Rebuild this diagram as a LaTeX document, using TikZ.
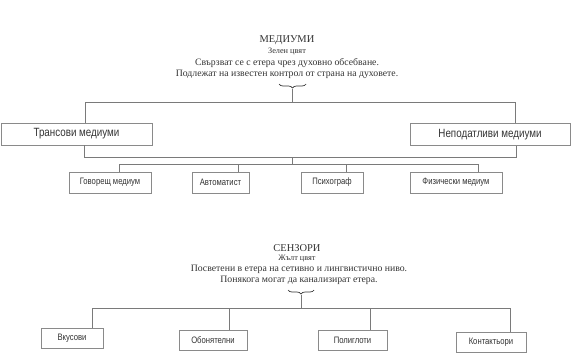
\documentclass[tikz,border=0pt]{standalone}
\usepackage{fontspec}
\setmainfont{Liberation Serif}
\newfontfamily\condfont[FakeStretch=0.82]{Liberation Sans}
\usetikzlibrary{decorations.pathreplacing}
\definecolor{ink}{HTML}{333333}
\definecolor{linec}{HTML}{7A7A7A}
\definecolor{boxc}{HTML}{8A8A8A}
\tikzset{
  headtext/.style={text=ink, inner sep=0pt, font=\fontsize{9.8}{10}\selectfont},
  titletext/.style={text=ink, inner sep=0pt, font=\fontsize{10.5}{11}\selectfont},
  colortext/.style={text=ink, inner sep=0pt, font=\fontsize{8.3}{9}\selectfont},
  bigbox/.style={draw=boxc, line width=0.6pt, text=ink, inner sep=0pt, font=\condfont\fontsize{12}{13}\selectfont},
  smallbox/.style={draw=boxc, line width=0.6pt, text=ink, inner sep=0pt, font=\condfont\fontsize{9.4}{10}\selectfont},
  conn/.style={draw=linec, line width=0.6pt},
  bracestyle/.style={draw=ink, line width=0.7pt, decorate, decoration={brace, mirror, amplitude=4bp}}
}
\begin{document}
\begin{tikzpicture}[x=1bp,y=-1bp]
\useasboundingbox (0,0) rectangle (571,355);
% ---------- МЕДИУМИ ----------
\node[titletext] (mt) at (287,40) {МЕДИУМИ};
\node[colortext] (mc) at (287,52) {Зелен цвят};
\node[headtext] (m1) at (287,63) {Свързват се с етера чрез духовно обсебване.};
\node[headtext] (m2) at (287,74) {Подлежат на известен контрол от страна на духовете.};
\coordinate (mba) at (279,84);
\coordinate (mbb) at (306,84);
\coordinate (mbt) at (292.5,88.5);
\draw[bracestyle] (mba) -- (mbb);
\coordinate (mh) at (292.5,102);
\draw[conn] (mbt) -- (mh);

\node[bigbox, minimum width=151bp, minimum height=22bp] (tr) at (76.5,134) {Трансови медиуми};
\node[bigbox, minimum width=160bp, minimum height=22bp] (np) at (490,134.5) {Неподатливи медиуми};

\coordinate (tl) at (85,102);
\coordinate (tr2) at (515,102);
\draw[conn] (tl |- tr.north) -- (tl) -- (tr2) -- (tr2 |- np.north);

\coordinate (bl) at (84,157);
\coordinate (br) at (516,157);
\draw[conn] (bl |- tr.south) -- (bl) -- (br) -- (br |- np.south);

\coordinate (mid) at (292,157);
\coordinate (mid2) at (292,164);
\draw[conn] (mid) -- (mid2);

\node[smallbox, minimum width=82bp, minimum height=21bp] (gm) at (110,182.5) {Говорещ медиум};
\node[smallbox, minimum width=57bp, minimum height=21bp] (av) at (220.5,182.5) {Автоматист};
\node[smallbox, minimum width=62bp, minimum height=21bp] (ps) at (332,182.5) {Психограф};
\node[smallbox, minimum width=92bp, minimum height=21bp] (fm) at (456,182.5) {Физически медиум};

\coordinate (s1) at (119,164);
\coordinate (s2) at (238,164);
\coordinate (s3) at (346,164);
\coordinate (s4) at (478,164);
\draw[conn] (s1 |- gm.north) -- (s1) -- (s4) -- (s4 |- fm.north);
\draw[conn] (s2) -- (s2 |- av.north);
\draw[conn] (s3) -- (s3 |- ps.north);

% ---------- СЕНЗОРИ ----------
\node[titletext] (st) at (297,248) {СЕНЗОРИ};
\node[colortext] (sc) at (297,259) {Жълт цвят};
\node[headtext] (s1t) at (299,269) {Посветени в етера на сетивно и лингвистично ниво.};
\node[headtext] (s2t) at (299,280) {Понякога могат да канализират етера.};
\coordinate (sba) at (288,290);
\coordinate (sbb) at (314,290);
\coordinate (sbt) at (301,294.5);
\draw[bracestyle] (sba) -- (sbb);
\coordinate (sh) at (301,308);
\draw[conn] (sbt) -- (sh);

\node[smallbox, minimum width=62bp, minimum height=20bp] (vk) at (72,338.5) {Вкусови};
\node[smallbox, minimum width=68bp, minimum height=20bp] (ob) at (213,340.5) {Обонятелни};
\node[smallbox, minimum width=69bp, minimum height=20bp] (pg) at (352.5,340.5) {Полиглоти};
\node[smallbox, minimum width=70bp, minimum height=20bp] (kt) at (491,342.5) {Контактьори};

\coordinate (k1) at (92,308);
\coordinate (k2) at (229,308);
\coordinate (k3) at (370,308);
\coordinate (k4) at (510,308);
\draw[conn] (k1 |- vk.north) -- (k1) -- (k4) -- (k4 |- kt.north);
\draw[conn] (k2) -- (k2 |- ob.north);
\draw[conn] (k3) -- (k3 |- pg.north);
\end{tikzpicture}
\end{document}
